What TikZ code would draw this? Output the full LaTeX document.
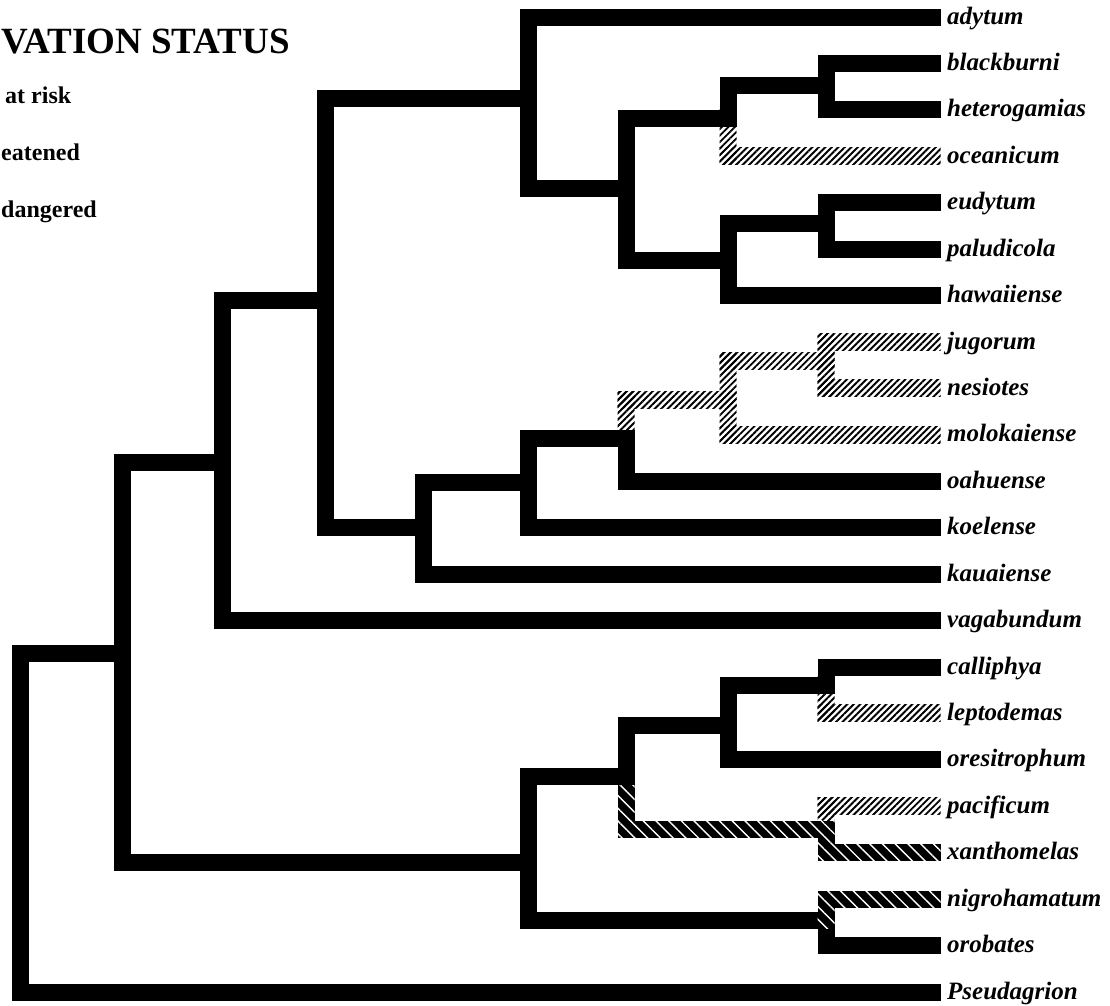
\documentclass[tikz,border=0pt]{standalone}
\usepackage{fontspec}
\setmainfont{Liberation Serif}
\usetikzlibrary{patterns.meta}
\tikzset{
  br/.style={line width=17pt, line cap=rect, draw=black},
  lt/.style={pattern={Lines[angle=45,distance=4.6pt,line width=1.9pt]}, pattern color=black},
  dk/.style={preaction={fill=black}, pattern={Lines[angle=-45,distance=9pt,line width=1.4pt]}, pattern color=white},
  taxon/.style={anchor=base west, inner sep=0pt, font=\fontsize{25}{29}\selectfont\bfseries\itshape},
  legendtext/.style={inner sep=0pt, font=\fontsize{24}{28}\selectfont\bfseries},
}
% hatched bar between two named points (first: upper/left, second: lower/right)
\newcommand{\hatchbar}[3]{\fill[#1] ([xshift=-8.5pt,yshift=8.5pt]#2) rectangle ([xshift=8.5pt,yshift=-8.5pt]#3);}
\begin{document}
\begin{tikzpicture}[x=1pt,y=-1pt]
\useasboundingbox (0,0) rectangle (1110,1005);
\fill[white] (0,0) rectangle (1110,1005);

% ---- legend (clipped at left in the original) ----
\node[anchor=base east, inner sep=0pt, font=\fontsize{37}{41}\selectfont\bfseries] (title) at (290,53) {VATION STATUS};
\node[legendtext, anchor=base west] (lg1) at (5,103) {at risk};
\node[legendtext, anchor=base west] (lg2) at (1,160) {eatened};
\node[legendtext, anchor=base west] (lg3) at (1,217) {dangered};

% ---- leaves ----
\foreach \n/\i in {adytum/0, blackburni/1, heterogamias/2, oceanicum/3, eudytum/4,
  paludicola/5, hawaiiense/6, jugorum/7, nesiotes/8, molokaiense/9, oahuense/10,
  koelense/11, kauaiense/12, vagabundum/13, calliphya/14, leptodemas/15,
  oresitrophum/16, pacificum/17, xanthomelas/18, nigrohamatum/19, orobates/20,
  Pseudagrion/21}{
  \coordinate (\n) at (932,{17+46.43*\i});
  \node[taxon] (lab-\n) at (947,{24+46.43*\i}) {\n};
}

% ---- internal nodes (x, y where the parent branch joins) ----
\coordinate (R) at (20,653);
\coordinate (A) at (122,653);
\coordinate (B) at (222,462);
\coordinate (C) at (325,300);
\coordinate (D) at (528,98);
\coordinate (Ep) at (626,188);
\coordinate (J) at (728,118);
\coordinate (K) at (826,85);
\coordinate (Epp) at (728,260);
\coordinate (L) at (826,223);
\coordinate (E) at (423,527);
\coordinate (F) at (528,482);
\coordinate (G) at (626,438);
\coordinate (H) at (728,400);
\coordinate (I) at (826,361);
\coordinate (M) at (528,862);
\coordinate (N) at (626,776);
\coordinate (Q) at (728,725);
\coordinate (P) at (826,685);
\coordinate (S) at (826,829);
\coordinate (T) at (826,920);

% helper points for hatched parts
\coordinate (Jo) at (J |- oceanicum);
\coordinate (GH) at (G |- H);
\coordinate (HI) at (H |- I);
\coordinate (Hm) at (H |- molokaiense);
\coordinate (Ij) at (I |- jugorum);
\coordinate (In) at (I |- nesiotes);
\coordinate (Pl) at (P |- leptodemas);
\coordinate (Sp) at (S |- pacificum);
\coordinate (NS) at (N |- S);
\coordinate (Sx) at (S |- xanthomelas);
\coordinate (Tn) at (T |- nigrohamatum);

% ---- light hatched branches ----
\hatchbar{lt}{J}{Jo}
\hatchbar{lt}{Jo}{oceanicum}
\hatchbar{lt}{GH}{G}
\hatchbar{lt}{GH}{H}
\hatchbar{lt}{HI}{Hm}
\hatchbar{lt}{HI}{I}
\hatchbar{lt}{Ij}{In}
\hatchbar{lt}{Ij}{jugorum}
\hatchbar{lt}{In}{nesiotes}
\hatchbar{lt}{Hm}{molokaiense}
\hatchbar{lt}{P}{Pl}
\hatchbar{lt}{Pl}{leptodemas}
\hatchbar{lt}{Sp}{S}
\hatchbar{lt}{Sp}{pacificum}

% ---- dark hatched branches ----
\hatchbar{dk}{N}{NS}
\hatchbar{dk}{NS}{S}
\hatchbar{dk}{S}{Sx}
\hatchbar{dk}{Sx}{xanthomelas}

% ---- black branches ----
\draw[br] (R) -- (A);
\draw[br] (R) -- (R |- Pseudagrion) -- (Pseudagrion);
\draw[br] (A |- B) -- (A |- M);
\draw[br] (A |- B) -- (B);
\draw[br] (A |- M) -- (M);
\draw[br] (B |- C) -- (B |- vagabundum) -- (vagabundum);
\draw[br] (B |- C) -- (C);
\draw[br] (C |- D) -- (C |- E);
\draw[br] (C |- D) -- (D);
\draw[br] (C |- E) -- (E);
\draw[br] (D |- Ep) -- (D |- adytum) -- (adytum);
\draw[br] (D |- Ep) -- (Ep);
\draw[br] (Ep |- J) -- (Ep |- Epp);
\draw[br] (Ep |- J) -- (J);
\draw[br] (Ep |- Epp) -- (Epp);
\draw[br] (J) -- (J |- K) -- (K);
\draw[br] (K |- blackburni) -- (K |- heterogamias);
\draw[br] (K |- blackburni) -- (blackburni);
\draw[br] (K |- heterogamias) -- (heterogamias);
\draw[br] (Epp |- L) -- (Epp |- hawaiiense) -- (hawaiiense);
\draw[br] (Epp |- L) -- (L);
\draw[br] (L |- eudytum) -- (L |- paludicola);
\draw[br] (L |- eudytum) -- (eudytum);
\draw[br] (L |- paludicola) -- (paludicola);
\draw[br] (E |- F) -- (E |- kauaiense) -- (kauaiense);
\draw[br] (E |- F) -- (F);
\draw[br] (F |- G) -- (F |- koelense) -- (koelense);
\draw[br] (F |- G) -- (G);
\draw[br] (G) -- (G |- oahuense) -- (oahuense);
\draw[br] (M |- N) -- (M |- T);
\draw[br] (M |- N) -- (N);
\draw[br] (M |- T) -- (T);
\draw[br] (N) -- (N |- Q) -- (Q);
\draw[br] (Q |- P) -- (Q |- oresitrophum) -- (oresitrophum);
\draw[br] (Q |- P) -- (P);
\draw[br] (P) -- (P |- calliphya) -- (calliphya);
\draw[br] (T) -- (T |- orobates) -- (orobates);

% ---- dark hatched on top at the lower junction ----
\hatchbar{dk}{Tn}{T}
\hatchbar{dk}{Tn}{nigrohamatum}
\end{tikzpicture}
\end{document}
